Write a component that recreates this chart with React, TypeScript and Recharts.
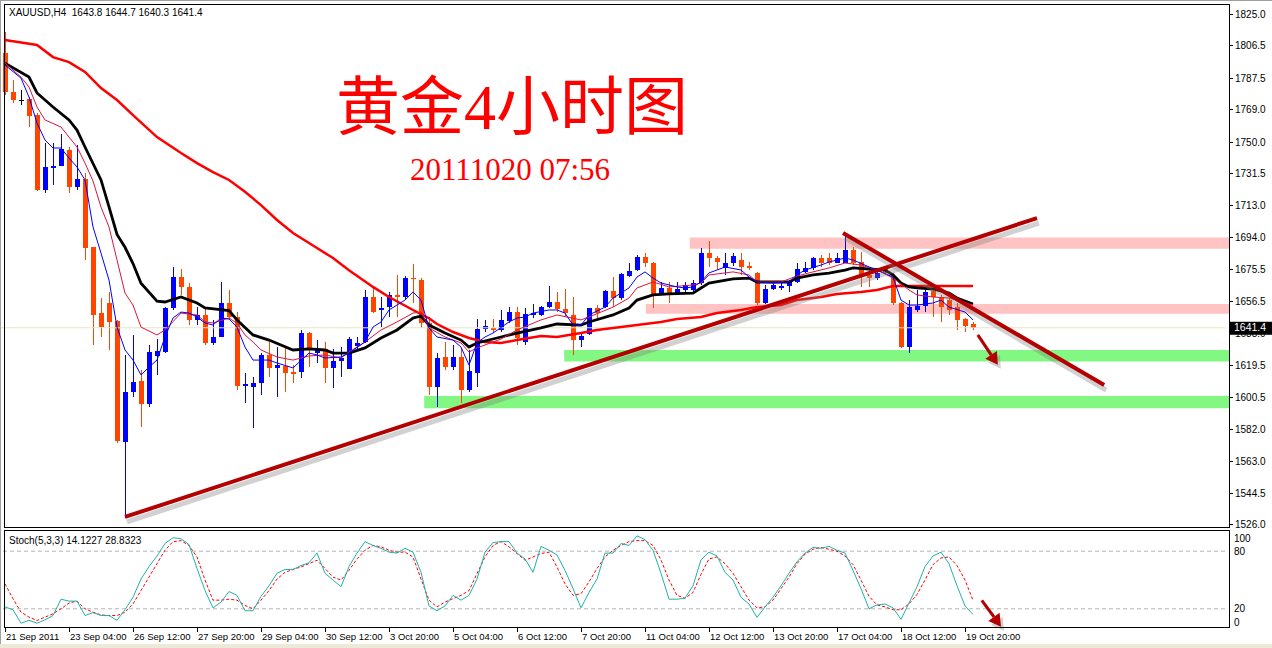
import React from "react";
import {
  ComposedChart,
  LineChart,
  Line,
  Bar,
  XAxis,
  YAxis,
  ReferenceArea,
  ReferenceLine,
} from "recharts";

// ---------- DATA ----------
const OPEN = [
  1802.2, 1779.3, 1774.8, 1775.3, 1765.9, 1722.0, 1734.9, 1736.0, 1745.4, 1723.8,
  1728.4, 1688.7, 1650.0, 1655.9, 1645.4, 1574.6, 1603.8, 1610.3, 1596.8, 1624.9,
  1627.2, 1653.0, 1671.1, 1665.3, 1646.0, 1648.9, 1632.5, 1636.0, 1655.9, 1647.7,
  1607.3, 1606.7, 1609.1, 1625.5, 1617.9, 1619.0, 1615.5, 1615.5, 1638.3, 1626.6,
  1629.0, 1617.9, 1622.0, 1617.3, 1630.7, 1633.1, 1659.4, 1651.8, 1653.5, 1660.6,
  1659.4, 1670.5, 1669.3, 1644.2, 1606.7, 1624.3, 1618.4, 1624.3, 1605.0, 1614.9,
  1640.7, 1641.3, 1640.1, 1645.4, 1650.6, 1633.1, 1648.9, 1648.9, 1653.5, 1656.5,
  1652.4, 1648.9, 1634.2, 1637.8, 1653.0, 1653.5, 1662.9, 1658.8, 1671.7, 1675.2,
  1682.8, 1679.3, 1661.2, 1664.7, 1661.7, 1663.5, 1663.5, 1667.6, 1685.1, 1682.2,
  1676.4, 1679.3, 1681.1, 1677.5, 1673.5, 1655.9, 1664.1, 1664.7, 1665.8, 1668.2,
  1674.1, 1676.4, 1682.2, 1682.2, 1679.3, 1679.3, 1686.9, 1679.9, 1672.3, 1670.5,
  1675.8, 1671.1, 1655.9, 1630.1, 1651.8, 1654.1, 1662.9, 1659.4, 1657.6, 1653.5,
  1646.5, 1643.8,
];
const HIGH = [
  1814.5, 1786.4, 1780.5, 1776.4, 1767.1, 1749.5, 1749.5, 1754.8, 1747.2, 1748.3,
  1732.0, 1688.7, 1658.8, 1662.3, 1646.0, 1625.5, 1637.2, 1616.7, 1631.3, 1634.8,
  1653.5, 1677.2, 1675.8, 1667.6, 1653.5, 1653.5, 1646.0, 1668.2, 1663.5, 1650.6,
  1614.9, 1612.6, 1626.6, 1634.2, 1630.1, 1630.1, 1619.6, 1640.1, 1638.9, 1634.2,
  1633.1, 1629.0, 1630.1, 1636.0, 1636.0, 1663.5, 1665.3, 1659.4, 1662.3, 1672.3,
  1671.7, 1678.7, 1670.5, 1647.7, 1626.6, 1633.1, 1631.3, 1629.6, 1628.4, 1646.5,
  1646.0, 1646.5, 1651.8, 1653.5, 1653.5, 1653.0, 1655.3, 1654.1, 1665.8, 1662.3,
  1664.1, 1659.4, 1638.3, 1653.0, 1654.7, 1663.5, 1671.1, 1673.5, 1679.3, 1684.0,
  1685.2, 1679.9, 1668.2, 1668.2, 1668.2, 1668.2, 1669.3, 1688.1, 1692.2, 1683.4,
  1685.1, 1685.1, 1685.1, 1679.9, 1674.1, 1666.4, 1667.6, 1667.6, 1669.3, 1679.3,
  1679.9, 1682.8, 1684.0, 1685.1, 1685.1, 1695.5, 1688.6, 1685.7, 1676.4, 1676.4,
  1676.4, 1673.7, 1656.5, 1657.6, 1663.5, 1663.5, 1664.7, 1660.6, 1658.8, 1655.9,
  1647.1, 1644.7,
];
const LOW = [
  1777.6, 1772.9, 1771.7, 1758.9, 1721.4, 1720.3, 1725.0, 1736.0, 1720.3, 1722.0,
  1681.1, 1631.3, 1636.0, 1628.4, 1574.0, 1530.1, 1600.9, 1583.3, 1595.0, 1613.8,
  1626.6, 1651.8, 1660.6, 1643.0, 1643.0, 1631.3, 1631.3, 1636.0, 1646.0, 1605.0,
  1597.4, 1582.8, 1602.1, 1612.6, 1600.9, 1603.8, 1609.1, 1612.0, 1618.4, 1620.8,
  1609.1, 1606.2, 1612.6, 1617.3, 1628.4, 1632.5, 1650.0, 1641.8, 1647.7, 1647.7,
  1657.6, 1655.9, 1641.3, 1602.1, 1595.0, 1616.7, 1616.7, 1597.4, 1603.8, 1606.7,
  1638.9, 1638.3, 1638.9, 1644.2, 1631.3, 1631.3, 1647.1, 1648.3, 1653.0, 1650.6,
  1647.7, 1625.5, 1630.1, 1637.2, 1647.1, 1653.0, 1653.5, 1657.6, 1671.1, 1674.6,
  1677.0, 1653.0, 1660.6, 1655.9, 1660.6, 1662.3, 1661.7, 1666.4, 1677.0, 1675.2,
  1672.3, 1677.5, 1672.3, 1675.2, 1654.7, 1655.3, 1663.5, 1663.5, 1662.3, 1667.6,
  1673.5, 1675.2, 1677.0, 1678.0, 1679.3, 1679.0, 1678.2, 1665.3, 1665.3, 1669.3,
  1672.9, 1654.7, 1629.6, 1626.6, 1650.6, 1650.6, 1647.7, 1644.8, 1648.9, 1640.1,
  1638.9, 1640.3,
];
const CLOSE = [
  1779.3, 1774.7, 1774.7, 1765.3, 1722.0, 1735.5, 1736.0, 1746.0, 1723.8, 1728.4,
  1688.1, 1648.9, 1641.8, 1644.8, 1575.1, 1603.8, 1609.7, 1596.8, 1627.2, 1627.8,
  1653.0, 1671.1, 1665.3, 1646.0, 1648.9, 1632.5, 1636.0, 1655.9, 1647.7, 1607.3,
  1608.5, 1609.1, 1625.5, 1617.9, 1619.6, 1614.9, 1614.4, 1638.3, 1628.4, 1628.4,
  1617.9, 1622.0, 1623.7, 1634.8, 1632.5, 1659.4, 1650.6, 1653.0, 1660.6, 1659.4,
  1670.5, 1669.9, 1644.2, 1606.7, 1623.7, 1618.4, 1624.3, 1605.0, 1616.1, 1640.7,
  1642.4, 1640.1, 1646.0, 1650.6, 1635.4, 1649.5, 1650.0, 1653.5, 1656.5, 1652.4,
  1650.0, 1634.2, 1636.6, 1653.0, 1650.0, 1662.9, 1658.8, 1672.9, 1674.6, 1682.8,
  1679.3, 1661.2, 1664.7, 1661.7, 1664.1, 1666.4, 1667.6, 1685.1, 1682.2, 1679.9,
  1679.3, 1683.4, 1677.0, 1676.4, 1655.9, 1664.1, 1666.4, 1665.8, 1668.2, 1675.8,
  1676.4, 1682.2, 1679.3, 1679.3, 1682.2, 1686.9, 1679.3, 1672.3, 1670.5, 1673.5,
  1673.5, 1655.9, 1630.1, 1653.5, 1654.1, 1662.3, 1659.4, 1653.5, 1651.8, 1646.0,
  1642.4, 1641.4,
];

// moving averages: [bar index, price]
const MA_SLOW = [
  [0, 1809.8], [4, 1806.9], [6, 1799.8], [8, 1796.9], [10, 1791.1], [12, 1781.7], [14, 1774.7],
  [16, 1765.9], [19, 1753.0], [22, 1743.7], [24, 1737.8], [26, 1732.5], [28, 1727.9], [30, 1721.0],
  [32, 1713.2], [34, 1704.5], [36, 1696.9], [38, 1691.0], [41, 1682.2], [43, 1675.0], [46, 1665.3],
  [48, 1659.4], [51, 1651.8], [53, 1647.0], [54, 1643.6], [56, 1638.9],
  [58, 1635.4], [60, 1633.1], [62, 1632.5], [64, 1634.2], [67, 1636.6], [69, 1636.0], [72, 1638.3],
  [74, 1640.1], [77, 1641.8], [79, 1643.0], [82, 1644.8], [84, 1646.5], [87, 1647.7], [89, 1650.0],
  [92, 1651.8], [94, 1653.5], [97, 1654.7], [99, 1657.6], [102, 1659.4], [104, 1661.2], [107, 1662.3],
  [109, 1663.5], [111, 1665.8], [121, 1665.8],
];
const MA_MID = [
  [0, 1796.3], [3, 1788.1], [4, 1778.8], [6, 1770.6], [8, 1763.0], [9, 1757.1], [10, 1747.2],
  [12, 1727.9], [13, 1712.1], [14, 1696.0], [15, 1688.5], [16, 1679.0], [17, 1667.5], [19, 1657.0],
  [20, 1656.5], [22, 1659.4], [24, 1655.9], [25, 1653.0], [28, 1651.5], [29, 1646.0], [31, 1637.2],
  [33, 1634.2], [36, 1628.4], [38, 1629.0], [40, 1628.4], [41, 1626.6], [43, 1626.6], [45, 1629.6],
  [47, 1635.4], [49, 1640.1], [51, 1647.1], [52, 1648.3], [53, 1643.0], [55, 1638.3], [57, 1634.2],
  [58, 1630.1], [59, 1632.5], [62, 1636.0], [64, 1638.3], [67, 1641.3], [69, 1643.6], [72, 1643.0],
  [73, 1644.8], [76, 1648.9], [78, 1653.0], [79, 1657.6], [81, 1660.6], [83, 1661.2], [86, 1661.7],
  [87, 1664.7], [88, 1667.6], [91, 1670.0], [93, 1670.5], [94, 1668.2], [98, 1668.2], [99, 1670.5],
  [101, 1672.3], [103, 1673.4], [105, 1675.2], [106, 1676.4], [108, 1675.8], [110, 1675.2],
  [111, 1672.3], [112, 1667.6], [113, 1665.3], [114, 1664.7], [116, 1664.1], [118, 1661.7],
  [119, 1658.8], [121, 1655.3],
];
const MA_FAST = [
  [0, 1795.2], [2, 1787.5], [3, 1776.4], [4, 1761.2], [5, 1751.3], [6, 1746.6], [7, 1746.6],
  [8, 1740.7], [9, 1735.5], [10, 1727.9], [11, 1700.4], [12, 1685.1], [13, 1669.3], [14, 1641.8],
  [15, 1628.4], [16, 1622.5], [17, 1613.8], [18, 1618.4], [19, 1622.5], [20, 1636.0], [21, 1647.1],
  [22, 1650.6], [23, 1650.0], [24, 1647.7], [25, 1644.2], [26, 1643.0], [27, 1647.1], [28, 1646.5],
  [29, 1641.8], [30, 1630.1], [31, 1622.5], [33, 1622.5], [34, 1620.8], [36, 1617.9], [38, 1626.6],
  [39, 1625.5], [40, 1623.7], [42, 1624.3], [43, 1626.6], [45, 1633.1], [46, 1641.8], [47, 1644.8],
  [48, 1651.8], [50, 1657.6], [51, 1662.3], [52, 1657.6], [53, 1641.3], [54, 1636.0], [56, 1634.2],
  [57, 1630.1], [58, 1619.6], [59, 1632.5], [60, 1636.0], [61, 1638.3], [63, 1644.8], [64, 1647.1],
  [65, 1647.7], [66, 1650.0], [68, 1651.8], [69, 1651.8], [70, 1650.0], [71, 1643.0], [72, 1643.0],
  [73, 1648.9], [75, 1653.5], [76, 1658.8], [77, 1661.7], [78, 1664.7], [79, 1671.1], [80, 1674.1],
  [81, 1670.5], [82, 1667.6], [84, 1665.3], [85, 1664.7], [86, 1665.3], [87, 1668.2], [88, 1673.5],
  [89, 1675.2], [90, 1677.0], [92, 1675.2], [93, 1671.1], [94, 1668.2], [96, 1667.6], [98, 1668.2],
  [99, 1672.3], [100, 1675.2], [102, 1678.1], [103, 1679.9], [105, 1682.2], [106, 1681.1],
  [108, 1677.0], [109, 1675.2], [111, 1671.1], [112, 1657.6], [113, 1654.7], [114, 1654.7],
  [116, 1655.9], [117, 1657.6], [118, 1653.5], [120, 1650.6], [121, 1646.0],
];
const MA_SIGNAL = [
  [0, 1796.3], [2, 1788.1], [3, 1782.3], [4, 1770.6], [5, 1763.0], [7, 1758.9], [8, 1753.0],
  [9, 1747.2], [10, 1737.8], [11, 1727.3], [12, 1712.0], [13, 1700.4], [14, 1681.1], [15, 1661.7],
  [16, 1654.7], [17, 1641.8], [19, 1637.2], [20, 1640.1], [21, 1645.0], [22, 1650.0], [24, 1648.9],
  [25, 1644.8], [26, 1644.2], [28, 1647.1], [29, 1644.0], [30, 1637.2], [31, 1633.1], [32, 1628.4],
  [34, 1624.3], [36, 1622.5], [38, 1624.9], [40, 1625.5], [42, 1623.7], [43, 1627.2], [45, 1633.1],
  [47, 1640.1], [49, 1644.8], [51, 1650.0], [52, 1650.6], [53, 1641.3], [55, 1636.0], [57, 1632.5],
  [58, 1627.2], [59, 1629.6], [62, 1634.8], [64, 1640.1], [67, 1646.0], [69, 1648.9], [72, 1646.0],
  [73, 1647.7], [76, 1653.5], [78, 1658.8], [79, 1664.7], [81, 1668.2], [83, 1665.3], [86, 1666.4],
  [87, 1667.6], [88, 1672.3], [91, 1674.1], [93, 1672.3], [94, 1668.2], [97, 1668.2], [99, 1671.7],
  [101, 1674.1], [103, 1676.4], [105, 1679.3], [107, 1678.1], [109, 1675.2], [111, 1670.5],
  [113, 1663.5], [114, 1660.6], [116, 1659.4], [118, 1658.8], [119, 1657.6], [121, 1654.7],
];

const STOCH_K = [
  22, 19, 5, 8, 5, 8.5, 13, 30, 28, 28,
  13, 16, 13, 13, 8, 19, 32, 51, 64, 75,
  88, 94, 93, 87, 62, 39, 21, 27, 38, 34,
  18, 18, 33, 44, 57, 61, 61, 65, 68, 78,
  57, 50, 43, 64, 78, 90, 86, 83, 79, 78,
  83, 79, 58, 23, 18, 23, 34, 29, 34, 51,
  79, 89, 90, 90, 78, 72, 58, 85, 81, 76,
  60, 41, 21, 37, 51, 78, 78, 88, 86, 96,
  92, 81, 57, 30, 30, 31, 44, 71, 79, 75,
  58, 50, 32, 25, 11, 22, 32, 44, 57, 69,
  78, 84, 83, 85, 81, 78, 60, 41, 20, 24,
  25, 21, 9, 26, 43, 64, 75, 79, 67, 44,
  23, 14.1,
];
const STOCH_D = [
  46, 30.5, 16.5, 11.3, 7.8, 11.3, 14.8, 20, 26, 28,
  20, 16.5, 13.7, 13, 13, 16.5, 25, 39, 53, 67,
  81, 90, 91, 86, 74, 50, 29, 29, 30, 29,
  23.5, 20, 29, 39, 51, 58, 61, 63.6, 67, 70.6,
  62, 53, 50, 60, 72, 81, 86, 84.6, 81, 79,
  79, 74, 51, 29, 22, 27, 30.5, 34, 39, 56.6,
  74, 86, 90, 84.6, 77.6, 70.6, 74, 77.6, 79, 63.6,
  46, 34, 35.7, 48, 62, 74, 81, 86, 90, 91,
  91, 86, 71, 50, 34, 31, 37, 56, 72, 74,
  67, 57, 43, 29, 21, 22, 29, 41, 53, 67,
  77, 82, 84, 82, 80, 75, 66, 50, 33, 24,
  22, 19, 19, 25, 35, 50, 66, 73, 74, 65,
  50, 28.8,
];

const PRICE_TICKS = [
  1825.0, 1806.5, 1787.5, 1769.0, 1750.0, 1731.5, 1713.0, 1694.0, 1675.5,
  1656.5, 1638.0, 1619.5, 1600.5, 1582.0, 1563.0, 1544.5, 1526.0,
];
const LAST_PRICE = 1641.4;
const STOCH_TICKS = [100, 80, 20, 0];
const TIME_TICK_BARS = [0, 8, 16, 24, 32, 40, 48, 56, 64, 72, 80, 88, 96, 104, 112, 120];
const TIME_LABELS = [
  "21 Sep 2011", "23 Sep 04:00", "26 Sep 12:00", "27 Sep 20:00", "29 Sep 04:00",
  "30 Sep 12:00", "3 Oct 20:00", "5 Oct 04:00", "6 Oct 12:00", "7 Oct 20:00",
  "11 Oct 04:00", "12 Oct 12:00", "13 Oct 20:00", "17 Oct 04:00", "18 Oct 12:00",
  "19 Oct 20:00",
];

// zones: start bar, low price, high price (extend to right edge)
const PINK_ZONES = [
  [85.6, 1687.6, 1694.3],
  [80.1, 1649.6, 1655.3],
];
const GREEN_ZONES = [
  [69.9, 1621.6, 1628.4],
  [52.4, 1594.3, 1601.5],
];
const TREND_UP = [[15, 1530.7], [129, 1705.6]];
const TREND_DOWN = [[104.75, 1696.9], [137.4, 1607.9]];
const ARROW_MAIN = [[121.6, 1637.2], [124.1, 1619.7]];
const ARROW_STOCH = [[122.1, 28.8], [124.5, 1.4]];
const ZONE_END = 153;

// ---------- STYLE ----------
const X_DOMAIN = [-0.5, 152.5];
const BULL = "#0000ff";
const BEAR = "#ff4500";
const TREND_COLOR = "#b40000";
const AXIS_FONT = '"Liberation Sans", Arial, sans-serif';

const candles = OPEN.map((o, i) => ({ x: i, o, h: HIGH[i], l: LOW[i], c: CLOSE[i] }));
const toPts = (arr: number[][]) => arr.map(([x, v]) => ({ x, v }));
const stochData = STOCH_K.map((k, i) => ({ x: i, k, d: STOCH_D[i] }));

function Candle(props: any) {
  const { x, y, width, height, payload } = props;
  if (!payload || payload.h == null || x == null || y == null) return null;
  const top = Math.min(y, y + height);
  const h = Math.abs(height);
  const span = payload.h - payload.l;
  const toY = (v: number) => (span > 0 ? top + ((payload.h - v) / span) * h : top);
  const cx = Math.round(x + width / 2);
  const diff = payload.c - payload.o;
  const doji = Math.abs(diff) < 0.15;
  const color = doji ? "#000000" : diff > 0 ? BULL : BEAR;
  const yA = Math.round(toY(Math.max(payload.o, payload.c)));
  const yB = Math.round(toY(Math.min(payload.o, payload.c)));
  return (
    <g shapeRendering="crispEdges">
      <rect x={cx} y={Math.round(top)} width={1} height={Math.max(1, Math.round(h))} fill={color} />
      <rect x={cx - 2} y={yA} width={5} height={Math.max(1, yB - yA)} fill={color} />
    </g>
  );
}

function PriceTick(props: any) {
  const { x, y, payload } = props;
  const v = payload.value;
  if (v === LAST_PRICE) {
    return (
      <g>
        <rect x={x + 4} y={y - 6} width={44} height={13} fill="#000" />
        <text x={x + 9} y={y} dy="0.35em" fill="#fff" fontSize={10.5} fontFamily={AXIS_FONT}>
          {v.toFixed(1)}
        </text>
      </g>
    );
  }
  return (
    <g>
      <line x1={x + 4} x2={x + 8} y1={y} y2={y} stroke="#000" shapeRendering="crispEdges" />
      <text x={x + 10} y={y} dy="0.35em" fill="#000" fontSize={10} fontFamily={AXIS_FONT}>
        {v.toFixed(1)}
      </text>
    </g>
  );
}

function StochTick(props: any) {
  const { x, y, payload } = props;
  const v = payload.value;
  const shift = v === 100 ? 6 : v === 0 ? -6 : 0;
  return (
    <text x={x + 9} y={y + shift} dy="0.35em" fill="#000" fontSize={10} fontFamily={AXIS_FONT}>
      {v}
    </text>
  );
}

function TimeTick(props: any) {
  const { x, y, payload } = props;
  const idx = TIME_TICK_BARS.indexOf(payload.value);
  return (
    <g>
      <line x1={x} x2={x} y1={y} y2={y + 4} stroke="#000" shapeRendering="crispEdges" />
      <text x={x + 1} y={y + 12} fill="#000" fontSize={9.5} fontFamily={AXIS_FONT}>
        {TIME_LABELS[idx]}
      </text>
    </g>
  );
}

function TrendShape(props: any) {
  const { x1, y1, x2, y2 } = props;
  if ([x1, y1, x2, y2].some((v) => v == null || isNaN(v))) return null;
  return (
    <g>
      <line x1={x1 + 2} y1={y1 + 5} x2={x2 + 2} y2={y2 + 5} stroke="#7a7a7a" strokeOpacity={0.35} strokeWidth={5} />
      <line x1={x1} y1={y1} x2={x2} y2={y2} stroke={TREND_COLOR} strokeWidth={4} />
    </g>
  );
}

function ArrowShape(props: any) {
  const { x1, y1, x2, y2 } = props;
  if ([x1, y1, x2, y2].some((v) => v == null || isNaN(v))) return null;
  const dx = x2 - x1;
  const dy = y2 - y1;
  const len = Math.hypot(dx, dy) || 1;
  const ux = dx / len;
  const uy = dy / len;
  const hl = 12;
  const hw = 7;
  const bx = x2 - ux * hl;
  const by = y2 - uy * hl;
  const px = -uy;
  const py = ux;
  const head = `${x2},${y2} ${bx + px * hw},${by + py * hw} ${bx - px * hw},${by - py * hw}`;
  const headS = `${x2 + 3},${y2 + 4} ${bx + px * hw + 3},${by + py * hw + 4} ${bx - px * hw + 3},${by - py * hw + 4}`;
  return (
    <g>
      <line x1={x1 + 3} y1={y1 + 4} x2={bx + 3} y2={by + 4} stroke="#777" strokeOpacity={0.35} strokeWidth={3} />
      <polygon points={headS} fill="#777" fillOpacity={0.35} />
      <line x1={x1} y1={y1} x2={bx} y2={by} stroke={TREND_COLOR} strokeWidth={3} />
      <polygon points={head} fill={TREND_COLOR} />
    </g>
  );
}

export default function App() {
  return (
    <div
      style={{
        position: "absolute",
        left: 0,
        top: 0,
        width: 1272,
        height: 648,
        background: "#fff",
        overflow: "hidden",
        fontFamily: AXIS_FONT,
      }}
    >
      {/* main price panel */}
      <div style={{ position: "absolute", left: 0, top: 0 }}>
        <ComposedChart width={1272} height={530} data={candles} margin={{ top: 5, right: 0, bottom: 3, left: 1 }}>
          <XAxis dataKey="x" type="number" domain={X_DOMAIN} allowDataOverflow hide />
          <YAxis
            orientation="right"
            width={47}
            domain={[1524.8, 1830.3]}
            allowDataOverflow
            ticks={[...PRICE_TICKS, LAST_PRICE]}
            interval={0}
            tick={<PriceTick />}
            tickSize={0}
            tickMargin={0}
            axisLine={false}
            tickLine={false}
          />
          {PINK_ZONES.map(([from, lo, hi], i) => (
            <ReferenceArea key={"p" + i} x1={from} x2={ZONE_END} y1={lo} y2={hi} fill="#ffc3c3" fillOpacity={1} stroke="none" ifOverflow="visible" />
          ))}
          {GREEN_ZONES.map(([from, lo, hi], i) => (
            <ReferenceArea key={"g" + i} x1={from} x2={ZONE_END} y1={lo} y2={hi} fill="#82f882" fillOpacity={1} stroke="none" ifOverflow="visible" />
          ))}
          <ReferenceLine y={LAST_PRICE} stroke="#e6e6c6" strokeWidth={1} />
          <Bar dataKey={(d: any) => [d.l, d.h]} barSize={5} shape={<Candle />} isAnimationActive={false} />
          <Line data={toPts(MA_SLOW)} dataKey="v" type="linear" stroke="#ff0000" strokeWidth={2.5} dot={false} isAnimationActive={false} />
          <Line data={toPts(MA_MID)} dataKey="v" type="linear" stroke="#000000" strokeWidth={2.8} dot={false} isAnimationActive={false} />
          <Line data={toPts(MA_SIGNAL)} dataKey="v" type="linear" stroke="#dc143c" strokeWidth={1} dot={false} isAnimationActive={false} />
          <Line data={toPts(MA_FAST)} dataKey="v" type="linear" stroke="#0000ff" strokeWidth={1} dot={false} isAnimationActive={false} />
          <ReferenceLine
            segment={[{ x: TREND_UP[0][0], y: TREND_UP[0][1] }, { x: TREND_UP[1][0], y: TREND_UP[1][1] }]}
            ifOverflow="visible"
            stroke={TREND_COLOR}
            strokeWidth={4}
            shape={<TrendShape />}
          />
          <ReferenceLine
            segment={[{ x: TREND_DOWN[0][0], y: TREND_DOWN[0][1] }, { x: TREND_DOWN[1][0], y: TREND_DOWN[1][1] }]}
            ifOverflow="visible"
            stroke={TREND_COLOR}
            strokeWidth={4}
            shape={<TrendShape />}
          />
          <ReferenceLine
            segment={[{ x: ARROW_MAIN[0][0], y: ARROW_MAIN[0][1] }, { x: ARROW_MAIN[1][0], y: ARROW_MAIN[1][1] }]}
            ifOverflow="visible"
            stroke={TREND_COLOR}
            shape={<ArrowShape />}
          />
        </ComposedChart>
      </div>

      {/* stochastic panel */}
      <div style={{ position: "absolute", left: 0, top: 530 }}>
        <LineChart width={1272} height={118} data={stochData} margin={{ top: 2, right: 0, bottom: 0, left: 1 }}>
          <XAxis
            dataKey="x"
            type="number"
            domain={X_DOMAIN}
            allowDataOverflow
            ticks={TIME_TICK_BARS}
            interval={0}
            tick={<TimeTick />}
            tickSize={0}
            tickMargin={0}
            axisLine={false}
            tickLine={false}
            height={20}
          />
          <YAxis
            orientation="right"
            width={47}
            domain={[0, 100]}
            ticks={STOCH_TICKS}
            interval={0}
            tick={<StochTick />}
            tickSize={0}
            tickMargin={0}
            axisLine={false}
            tickLine={false}
          />
          <ReferenceLine y={80} stroke="#b4b4b4" strokeDasharray="4 3" />
          <ReferenceLine y={20} stroke="#b4b4b4" strokeDasharray="4 3" />
          <Line dataKey="d" type="linear" stroke="#ff0000" strokeWidth={1} strokeDasharray="3 2" dot={false} isAnimationActive={false} />
          <Line dataKey="k" type="linear" stroke="#20b2aa" strokeWidth={1} dot={false} isAnimationActive={false} />
          <ReferenceLine
            segment={[{ x: ARROW_STOCH[0][0], y: ARROW_STOCH[0][1] }, { x: ARROW_STOCH[1][0], y: ARROW_STOCH[1][1] }]}
            ifOverflow="visible"
            stroke={TREND_COLOR}
            shape={<ArrowShape />}
          />
        </LineChart>
      </div>

      {/* panel frames */}
      <div style={{ position: "absolute", left: 0, top: 0, width: 1272, height: 1, background: "#a0a0a0" }} />
      <div style={{ position: "absolute", left: 0, top: 0, width: 1, height: 648, background: "#a0a0a0" }} />
      <div style={{ position: "absolute", left: 4, top: 4, width: 1226, height: 524, border: "1px solid #000", boxSizing: "border-box", pointerEvents: "none" }} />
      <div style={{ position: "absolute", left: 4, top: 530, width: 1226, height: 98, border: "1px solid #000", boxSizing: "border-box", pointerEvents: "none" }} />
      <div style={{ position: "absolute", left: 0, top: 644, width: 1272, height: 4, background: "#ece9d8" }} />

      {/* texts */}
      <div style={{ position: "absolute", left: 9, top: 7, fontSize: 10, lineHeight: "12px", color: "#000", whiteSpace: "pre", fontFamily: AXIS_FONT }}>
        {"XAUUSD,H4  1643.8 1644.7 1640.3 1641.4"}
      </div>
      <div style={{ position: "absolute", left: 9, top: 535, fontSize: 10, lineHeight: "12px", color: "#000", whiteSpace: "pre", fontFamily: AXIS_FONT }}>
        {"Stoch(5,3,3) 14.1227 28.8323"}
      </div>
      <div
        style={{
          position: "absolute",
          left: 336,
          top: 72,
          fontSize: 64,
          lineHeight: "72px",
          color: "#ff0000",
          whiteSpace: "nowrap",
          fontFamily: '"Liberation Serif", "Noto Sans CJK SC", serif',
        }}
      >
        黄金4小时图
      </div>
      <div
        style={{
          position: "absolute",
          left: 410,
          top: 154,
          fontSize: 31,
          lineHeight: "31px",
          color: "#ff0000",
          whiteSpace: "nowrap",
          fontFamily: '"Liberation Serif", serif',
        }}
      >
        20111020 07:56
      </div>
    </div>
  );
}
